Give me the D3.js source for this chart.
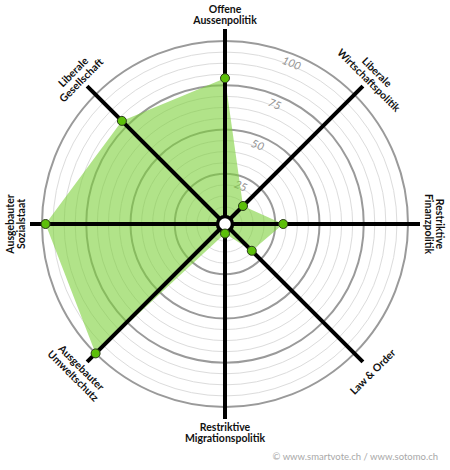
<!DOCTYPE html>
<html>
<head>
<meta charset="utf-8">
<script src="https://cdn.jsdelivr.net/npm/d3@7"></script>
<style>
  body { margin: 0; background: #fff; }
  svg { display: block; }
</style>
</head>
<body>
<div id="chart"></div>
<script>
"use strict";

// smartspider data, clockwise from top
var axisLabels = [
    ["Offene", "Aussenpolitik"],
    ["Liberale", "Wirtschaftspolitik"],
    ["Restriktive", "Finanzpolitik"],
    ["Law & Order"],
    ["Restriktive", "Migrationspolitik"],
    ["Ausgebauter", "Umweltschutz"],
    ["Ausgebauter", "Sozialstaat"],
    ["Liberale", "Gesellschaft"]
];
var values = [79, 11, 29.5, 18, 2, 100, 98, 79];
var tickValues = [25, 50, 75, 100];
var minorStep = 6.25;

var width = 450, height = 470,
    cx = 225, cy = 224;

var r = d3.scaleLinear().domain([0, 100]).range([6, 183]);
var angle = d3.scaleLinear().domain([0, axisLabels.length]).range([0, 2 * Math.PI]);

function px(a, rad) { return cx + Math.sin(a) * rad; }
function py(a, rad) { return cy - Math.cos(a) * rad; }

var svg = d3.select("#chart").append("svg")
    .attr("width", width)
    .attr("height", height);

// minor rings
var minor = d3.range(minorStep, 100, minorStep).filter(function (v) {
    return tickValues.indexOf(v) < 0;
});
svg.append("g").selectAll("circle")
    .data(minor)
    .enter().append("circle")
    .attr("cx", cx).attr("cy", cy)
    .attr("r", function (d) { return r(d); })
    .attr("fill", "none")
    .attr("stroke", "#dcdcdc")
    .attr("stroke-width", 1);

// major rings
svg.append("g").selectAll("circle")
    .data(tickValues)
    .enter().append("circle")
    .attr("cx", cx).attr("cy", cy)
    .attr("r", function (d) { return r(d); })
    .attr("fill", "none")
    .attr("stroke", "#9a9a9a")
    .attr("stroke-width", 2);

// tick labels along 22.5 deg
var tickAngle = Math.PI / 8;
svg.append("g").selectAll("text")
    .data(tickValues)
    .enter().append("text")
    .attr("transform", function (d) {
        var rr = r(d) - 9;
        return "translate(" + px(tickAngle, rr) + "," + py(tickAngle, rr) + ") rotate(22.5)";
    })
    .attr("text-anchor", "middle")
    .attr("dy", "0.35em")
    .attr("font-family", "Lato, 'Noto Sans', sans-serif")
    .attr("font-style", "italic")
    .attr("font-size", 11)
    .attr("fill", "#939393")
    .text(function (d) { return d; });

// filled area
var line = d3.lineRadial()
    .angle(function (d, i) { return angle(i); })
    .radius(function (d) { return r(d); })
    .curve(d3.curveLinearClosed);

svg.append("path")
    .datum(values)
    .attr("transform", "translate(" + cx + "," + cy + ")")
    .attr("d", line)
    .attr("fill", "#7dd13a")
    .attr("fill-opacity", 0.6)
    .attr("stroke", "none");

// axis lines
svg.append("g").selectAll("line")
    .data(axisLabels)
    .enter().append("line")
    .attr("x1", cx).attr("y1", cy)
    .attr("x2", function (d, i) { return px(angle(i), 195); })
    .attr("y2", function (d, i) { return py(angle(i), 195); })
    .attr("stroke", "#000")
    .attr("stroke-width", 4);

// centre hole
svg.append("circle")
    .attr("cx", cx).attr("cy", cy)
    .attr("r", 7.5)
    .attr("fill", "#fff")
    .attr("stroke", "#000")
    .attr("stroke-width", 3.5);

// dots
svg.append("g").selectAll("circle")
    .data(values)
    .enter().append("circle")
    .attr("cx", function (d, i) { return px(angle(i), r(d)); })
    .attr("cy", function (d, i) { return py(angle(i), r(d)); })
    .attr("r", 4.5)
    .attr("fill", "#5cbf0a")
    .attr("stroke", "#2a3a1a")
    .attr("stroke-width", 1);

// axis labels, rotated tangentially
var labels = svg.append("g").selectAll("g")
    .data(axisLabels)
    .enter().append("g")
    .attr("transform", function (d, i) {
        var deg = i * 360 / axisLabels.length;
        var rot = deg <= 90 ? deg : (deg < 270 ? deg - 180 : deg - 360);
        return "translate(" + px(angle(i), 209) + "," + py(angle(i), 209) + ") rotate(" + rot + ")";
    });

labels.each(function (d) {
    var g = d3.select(this);
    var lh = 11.5;
    var off = -(d.length - 1) * lh / 2;
    d.forEach(function (t, k) {
        g.append("text")
            .attr("y", off + k * lh)
            .attr("dy", "0.35em")
            .attr("text-anchor", "middle")
            .attr("font-family", "Lato, 'Noto Sans', sans-serif")
            .attr("font-weight", "bold")
            .attr("font-size", 10.5)
            .attr("fill", "#111")
            .text(t);
    });
});

// source
svg.append("text")
    .attr("x", 438)
    .attr("y", 460)
    .attr("text-anchor", "end")
    .attr("font-family", "Lato, 'Noto Sans', sans-serif")
    .attr("font-size", 9.5)
    .attr("fill", "#a8a8a8")
    .text("\u00a9 www.smartvote.ch / www.sotomo.ch");
</script>
</body>
</html>
